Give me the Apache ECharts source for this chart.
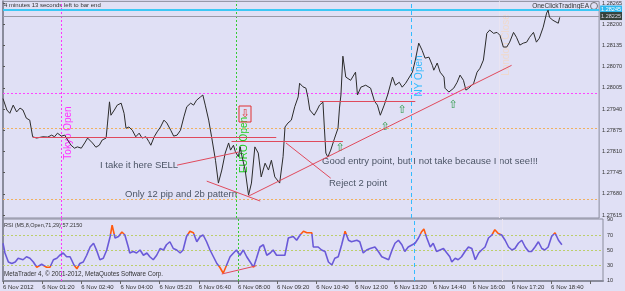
<!DOCTYPE html>
<html><head><meta charset="utf-8">
<script src="https://cdn.jsdelivr.net/npm/echarts@6/dist/echarts.min.js"></script>
<style>html,body{margin:0;padding:0;background:#e0e0f5}#c{width:625px;height:291px}</style>
</head><body><div id="c"></div>
<script>
// minutes since 00:00 on 6 Nov 2012 (M5 chart)
const priceMinutes = [0,8,14,21,28,35,41,48,55,61,69,82,92,100,106,112,120,127,133,140,147,153,161,168,174,178,184,191,198,204,212,215,219,222,229,235,243,249,253,259,266,273,280,286,294,300,304,311,317,324,331,337,345,351,358,365,372,378,386,392,398,406,411,416,423,429,437,443,450,457,464,468,474,478,484,488,490,498,505,511,518,525,531,539,546,552,559,569,576,580,586,593,600,607,610,617,623,627,631,640,646,651,658,661,664,668,674,682,689,692,695,699,705,715,725,729,736,746,756,764,770,776,784,791,801,807,815,821,828,832,842,848,855,862,868,876,883,886,893,899,907,909,917,927,934,940,947,952,958,960,968,975,981,988,995,1001,1009,1016,1022,1029,1036,1042,1050,1056,1063,1070,1077,1083,1091,1097,1103,1111,1118,1121,1124,1131,1134,1142,1145];
const priceValues = [1.27972,1.27937,1.27927,1.27952,1.27931,1.27943,1.27937,1.27912,1.27906,1.27855,1.27851,1.27855,1.27854,1.27860,1.27855,1.27866,1.27857,1.27860,1.27845,1.27829,1.27820,1.27824,1.27820,1.27836,1.27851,1.27857,1.27836,1.27823,1.27829,1.27845,1.27851,1.27897,1.27962,1.27921,1.27937,1.27952,1.27958,1.27927,1.27881,1.27885,1.27875,1.27855,1.27866,1.27851,1.27855,1.27840,1.27829,1.27855,1.27870,1.27885,1.27906,1.27897,1.27875,1.27857,1.27860,1.27875,1.27916,1.27947,1.27958,1.27952,1.27967,1.27977,1.27983,1.27952,1.27906,1.27855,1.27783,1.27713,1.27753,1.27805,1.27836,1.27814,1.27829,1.27809,1.27794,1.27824,1.27805,1.27753,1.27676,1.27713,1.27824,1.27805,1.27732,1.27774,1.27753,1.27783,1.27732,1.27713,1.27794,1.27885,1.27897,1.27906,1.27947,1.27977,1.28019,1.28008,1.28004,1.27976,1.27937,1.27921,1.27937,1.27952,1.27961,1.27881,1.27805,1.27793,1.27814,1.27851,1.27881,1.27943,1.27983,1.28102,1.28038,1.28028,1.28053,1.27983,1.28007,1.28013,1.28004,1.27964,1.27952,1.27921,1.27952,1.27983,1.28038,1.28013,1.28022,1.28007,1.28019,1.28022,1.28053,1.28090,1.28142,1.28120,1.28096,1.28099,1.28074,1.28059,1.28081,1.28053,1.28038,1.28004,1.27992,1.28004,1.28022,1.28044,1.28028,1.27998,1.28004,1.28007,1.28019,1.28053,1.28065,1.28090,1.28172,1.28182,1.28172,1.28175,1.28166,1.28130,1.28130,1.28145,1.28175,1.28160,1.28136,1.28142,1.28145,1.28160,1.28175,1.28145,1.28157,1.28191,1.28234,1.28243,1.28221,1.28212,1.28218,1.28203,1.28221];
const rsiMinutes = [0,4,11,18,25,31,41,48,55,62,69,79,89,96,103,110,116,123,130,137,140,145,151,157,164,171,178,185,191,198,205,212,219,223,229,236,243,249,256,259,266,273,280,287,294,300,307,314,321,328,334,341,348,355,362,368,375,382,389,396,403,409,416,423,430,437,443,450,457,464,471,477,484,491,498,505,512,518,525,532,539,546,552,559,566,576,583,593,600,607,614,621,631,634,644,651,658,665,672,678,685,692,699,706,712,723,729,736,743,750,760,767,774,781,788,795,801,808,815,821,828,832,842,849,855,860,866,873,879,886,893,900,907,913,917,924,930,937,944,951,958,965,972,978,985,992,999,1005,1012,1019,1026,1033,1040,1046,1053,1060,1067,1074,1080,1087,1094,1101,1107,1114,1121,1128,1135,1142];
const rsiValues = [59,46,34,32,34,39,37,41,39,34,27,31,27,27,37,39,43,46,41,41,37,30,25,32,34,43,54,59,50,37,39,50,68,83,66,68,74,70,54,46,48,46,50,43,46,41,37,43,52,50,57,61,52,50,46,50,68,75,73,61,68,70,61,50,41,32,27,19,30,41,46,50,43,50,41,34,27,39,54,57,43,46,50,43,43,43,66,68,63,70,75,73,73,54,54,50,48,34,30,39,41,57,75,63,61,63,61,46,50,52,54,48,41,39,37,50,59,63,57,48,54,52,59,66,74,78,66,54,59,48,50,52,46,41,34,39,37,41,48,54,52,37,46,50,54,66,70,77,72,70,63,54,50,52,59,63,54,48,48,54,61,52,50,54,68,73,63,57];
const priceTicks = [1.28265,1.28200,1.28135,1.28070,1.28005,1.27940,1.27875,1.27810,1.27745,1.27680,1.27615];
const rsiTicks = [10,30,50,70,90];
const xTickLabels = ['6 Nov 2012','6 Nov 01:20','6 Nov 02:40','6 Nov 04:00','6 Nov 05:20','6 Nov 06:40','6 Nov 08:00','6 Nov 09:20','6 Nov 10:40','6 Nov 12:00','6 Nov 13:20','6 Nov 14:40','6 Nov 16:00','6 Nov 17:20','6 Nov 18:40'];
const sessionNames = ['Tokyo Open','EURO Open','NY Open','London Close'];
const sessionMinutes = [120,480,840,1020];
const levelPrices = [1.27989,1.27881,1.27664];
const rsiLevels = [30,50,70];
const askPrice = 1.28245, bidPrice = 1.28225;
const annotationSegments = [
  [[61,1.27852],[562,1.27852]],
  [[470,1.27842],[699,1.27842]],
  [[652,1.27964],[848,1.27964]],
  [[505,1.27673],[1046,1.28074]],
  [[419,1.27719],[529,1.27658]],
  [[358,1.27768],[484,1.27808]],
  [[582,1.27836],[674,1.27728]]
];
const rsiSegment = [[447,18],[518,29]];

const X_MIN = 0, X_MAX = 1226;
const sessionColors = ['#ff33ff','#33cc33','#33bbff','#e9e4f2'];
const sessionTypes = [[2,2],[2,2],[4,3],'solid'];
const levelColors = ['#ff44ff','#f0b060','#f0b060'];
const RED = '#e04a5c';
const FONT = 'Liberation Sans, Arial, sans-serif';
const chart = echarts.init(document.getElementById('c'), null, {renderer:'canvas'});

const vLines = sessionMinutes.map((t,i)=>({xAxis:t, lineStyle:{color:sessionColors[i], type:sessionTypes[i], width:1}}));
const hLine = (p, style, label) => [{coord:[X_MIN,p], lineStyle:style, label:label||{show:false}}, {coord:[X_MAX,p], lineStyle:style, label:label||{show:false}}];

const option = {
  animation:false,
  backgroundColor:'#e0e0f5',
  textStyle:{fontFamily:FONT},
  grid:[
    {left:3, right:22, top:1, height:217, show:true, borderColor:'#8a8c9c', borderWidth:1},
    {left:3, right:22, top:219, height:62, show:true, borderColor:'#8a8c9c', borderWidth:1}
  ],
  xAxis:[
    {type:'value', gridIndex:0, min:X_MIN, max:X_MAX, interval:80, axisLine:{show:false}, axisTick:{show:false}, axisLabel:{show:false}, splitLine:{show:false}},
    {type:'value', gridIndex:1, min:X_MIN, max:X_MAX, interval:80,
      axisLine:{show:true, lineStyle:{color:'#8a8c9c', width:2}},
      axisTick:{show:true, length:3, lineStyle:{color:'#666'}},
      axisLabel:{show:true, fontSize:6, color:'#333', align:'left', margin:3, hideOverlap:false, showMaxLabel:false,
        formatter:v=>{const i=Math.round(v/80); return (v%80===0 && i<xTickLabels.length)?xTickLabels[i]:'';}},
      splitLine:{show:false}}
  ],
  yAxis:[
    {type:'value', gridIndex:0, position:'right', min:1.27606, max:1.28270, scale:true,
      axisLine:{show:true, lineStyle:{color:'#8a8c9c', width:2}},
      axisTick:{show:true, length:2, customValues:priceTicks, lineStyle:{color:'#555'}},
      axisLabel:{show:true, fontSize:5.5, color:'#333', margin:3, customValues:priceTicks, formatter:v=>v.toFixed(5)},
      splitLine:{show:false}},
    {type:'value', gridIndex:1, position:'right', min:8.7, max:91.3,
      axisLine:{show:true, lineStyle:{color:'#8a8c9c', width:2}},
      axisTick:{show:false},
      axisLabel:{show:true, fontSize:5.5, color:'#333', margin:4, customValues:rsiTicks},
      splitLine:{show:false}}
  ],
  visualMap:{show:false, seriesIndex:1, dimension:1, pieces:[
    {lt:29, color:'#ff5a10'},{gte:29, lte:71, color:'#6a5ad8'},{gt:71, color:'#ff5a10'}]},
  series:[
    {type:'line', xAxisIndex:0, yAxisIndex:0, showSymbol:false, silent:true,
      data:priceMinutes.map((t,i)=>[t,priceValues[i]]),
      lineStyle:{color:'#2b2b2b', width:1}, z:5,
      markLine:{silent:true, precision:6, symbol:['none','none'], label:{show:false}, animation:false, z:3,
        data:[
        ...levelPrices.map((p,i)=>hLine(p,{color:levelColors[i], type:[2,2], width:1})),
        ...vLines,
        hLine(askPrice,{color:'#3cc8f5', type:'solid', width:2},
          {show:true, position:'end', distance:1, formatter:askPrice.toFixed(5), fontSize:5.5, color:'#fff', backgroundColor:'#2fb8ee', padding:[1,1]}),
        hLine(bidPrice,{color:'#9a9aa6', type:'solid', width:1},
          {show:true, position:'end', distance:1, formatter:bidPrice.toFixed(5), fontSize:5.5, color:'#dde', backgroundColor:'#35423a', padding:[1,1]})
      ]}},
    {type:'line', xAxisIndex:1, yAxisIndex:1, showSymbol:false, silent:true,
      data:rsiMinutes.map((t,i)=>[t,rsiValues[i]]),
      lineStyle:{width:1.6}, z:5,
      markLine:{silent:true, precision:6, symbol:['none','none'], label:{show:false}, animation:false, z:3,
        data:[
        ...rsiLevels.map(v=>hLine(v,{color:'#bccf6a', type:[2,2], width:1})),
        ...vLines
      ]}},
    {type:'lines', coordinateSystem:'cartesian2d', xAxisIndex:0, yAxisIndex:0, silent:true, z:6,
      lineStyle:{color:RED, width:1, opacity:1},
      data:annotationSegments.map(s=>({coords:s}))},
    {type:'lines', coordinateSystem:'cartesian2d', xAxisIndex:1, yAxisIndex:1, silent:true, z:6,
      lineStyle:{color:RED, width:1, opacity:1},
      data:[{coords:rsiSegment}]}
  ],
  graphic:[
    {type:'text', left:4, top:2, style:{text:'4 minutes 13 seconds left to bar end', font:'6px '+FONT, fill:'#333'}},
    {type:'text', right:36, top:3, style:{text:'OneClickTradingEA', font:'6.5px '+FONT, fill:'#333'}},
    {type:'circle', shape:{cx:594, cy:6, r:3.5}, style:{fill:'none', stroke:'#555', lineWidth:0.8}},
    {type:'text', left:4, top:222, style:{text:'RSI (M5,8,Open,71,29) 57.2150', font:'5.5px '+FONT, fill:'#333'}},
    {type:'text', left:4, top:271, style:{text:'MetaTrader 4, © 2001-2012, MetaQuotes Software Corp.', font:'6.3px '+FONT, fill:'#333'}},
    {type:'text', x:68, y:133, rotation:Math.PI/2, style:{text:sessionNames[0], font:'10px '+FONT, fill:'#ff33ff', align:'center', verticalAlign:'middle'}},
    {type:'text', x:244, y:145, rotation:Math.PI/2, style:{text:sessionNames[1], font:'10px '+FONT, fill:'#22cc22', align:'center', verticalAlign:'middle'}},
    {type:'text', x:419, y:76, rotation:Math.PI/2, style:{text:sessionNames[2], font:'10px '+FONT, fill:'#33bbff', align:'center', verticalAlign:'middle'}},
    {type:'text', x:506, y:45, rotation:Math.PI/2, style:{text:sessionNames[3], font:'10px '+FONT, fill:'#efd9cc', align:'center', verticalAlign:'middle'}},
    {type:'text', x:100, y:165, style:{text:'I take it here SELL', font:'9.5px '+FONT, fill:'#4c5566', verticalAlign:'middle'}},
    {type:'text', x:125, y:194, style:{text:'Only 12 pip and 2b pattern', font:'9.5px '+FONT, fill:'#4c5566', verticalAlign:'middle'}},
    {type:'text', x:322, y:161, style:{text:'Good entry point, but I not take because I not see!!!', font:'9.5px '+FONT, fill:'#4c5566', verticalAlign:'middle'}},
    {type:'text', x:329, y:183, style:{text:'Reject 2 point', font:'9.5px '+FONT, fill:'#4c5566', verticalAlign:'middle'}},
    {type:'rect', shape:{x:239, y:106, width:12, height:16}, style:{fill:'none', stroke:'#e03030', lineWidth:1}},
    {type:'text', x:245, y:114, style:{text:'⇩', font:'11px DejaVu Sans', fill:'#e03030', align:'center', verticalAlign:'middle'}},
    {type:'text', x:340, y:148, style:{text:'⇧', font:'11px DejaVu Sans', fill:'#2e9a4a', align:'center', verticalAlign:'middle'}},
    {type:'text', x:385, y:127, style:{text:'⇧', font:'11px DejaVu Sans', fill:'#2e9a4a', align:'center', verticalAlign:'middle'}},
    {type:'text', x:402, y:110, style:{text:'⇧', font:'11px DejaVu Sans', fill:'#2e9a4a', align:'center', verticalAlign:'middle'}},
    {type:'text', x:453, y:105, style:{text:'⇧', font:'11px DejaVu Sans', fill:'#2e9a4a', align:'center', verticalAlign:'middle'}}
  ]
};
chart.setOption(option);
</script></body></html>
